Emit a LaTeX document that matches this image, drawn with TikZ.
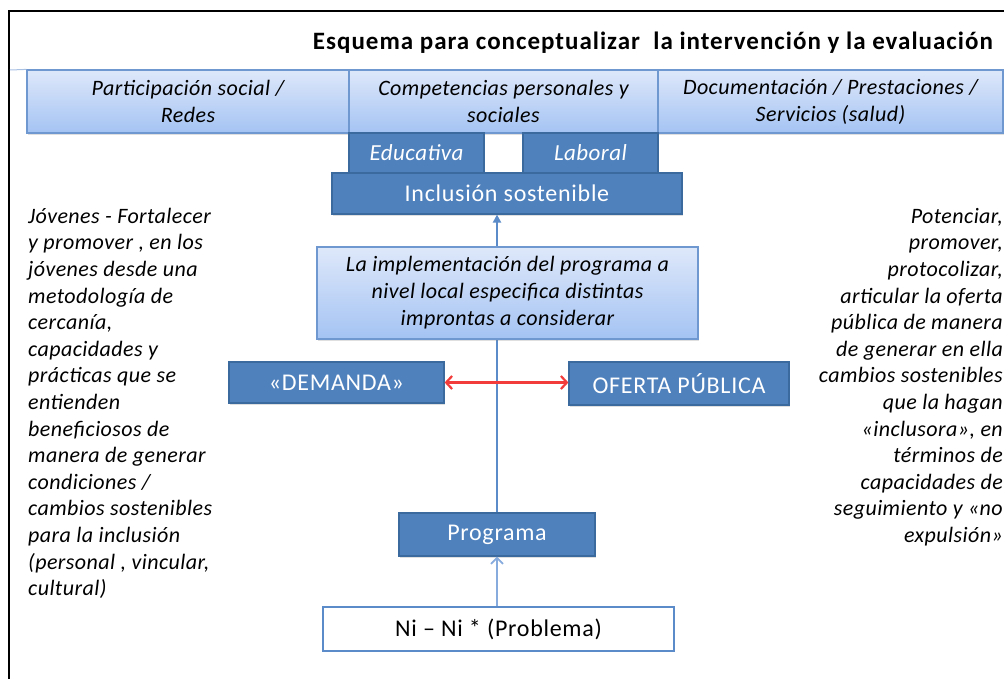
\documentclass[tikz,border=0pt]{standalone}
\usepackage{fontspec}
\setmainfont{Carlito}
\usetikzlibrary{arrows.meta,shadows}
\definecolor{dkblue}{HTML}{4F81BD}
\definecolor{dkborder}{HTML}{3B6A9F}
\definecolor{gtop}{HTML}{DEE8FA}
\definecolor{gbot}{HTML}{A4C3F3}
\definecolor{gborder}{HTML}{6F98D0}
\definecolor{lineblue}{HTML}{5B8BC8}
\definecolor{lightarrow}{HTML}{86ABDC}
\definecolor{redarrow}{HTML}{F23B3B}
\newcommand{\uprightfont}{\fontsize{24}{28}\selectfont\addfontfeatures{LetterSpace=3}}
\newcommand{\italfont}{\itshape\fontsize{22}{27}\selectfont\addfontfeatures{LetterSpace=2}}
\begin{document}
\begin{tikzpicture}[x=1pt,y=-1pt,
  boxshadow/.style={drop shadow={shadow xshift=1.2pt,shadow yshift=-1.8pt,opacity=0.25}},
  darkbox/.style={draw=dkborder,line width=1.2pt,fill=dkblue,text=white,inner sep=0pt,
    align=center,font=\uprightfont,boxshadow},
  darkital/.style={darkbox,font=\itshape\fontsize{23}{27}\selectfont\addfontfeatures{LetterSpace=2}},
  gradbox/.style={draw=gborder,line width=1.2pt,top color=gtop,bottom color=gbot,inner sep=0pt,
    align=center,font=\italfont,boxshadow},
  plainbox/.style={draw=lineblue,line width=1.5pt,fill=white,inner sep=0pt,
    align=center,font=\uprightfont},
  sidetext/.style={inner sep=0pt,font=\itshape\fontsize{22}{26.6}\selectfont\addfontfeatures{LetterSpace=2}},
  mainline/.style={draw=lineblue,line width=2.2pt},
  redline/.style={draw=redarrow,line width=2.2pt},
]
\useasboundingbox (0,0) rectangle (1006,679);
\fill[white] (0,0) rectangle (1006,679);
% frame
\draw[line width=2pt] (9,679) |- (1004,11);

% title
\node[anchor=base east,inner sep=0pt,font=\bfseries\fontsize{25}{29}\selectfont\addfontfeatures{LetterSpace=4}] (title) at (993,50)
  {Esquema para conceptualizar\ \ la intervención y la evaluación};

% top row
\node[gradbox,minimum width=322pt,minimum height=63pt] (tb1) at (188,101.5)
  {Participación social /\\Redes};
\node[gradbox,minimum width=309pt,minimum height=63pt] (tb2) at (503.5,101.5)
  {Competencias personales y\\sociales};
\node[gradbox,minimum width=345pt,minimum height=63pt] (tb3) at (830.5,101.5)
  {Documentación / Prestaciones /\\Servicios (salud)};
\draw[gborder!60,line width=1pt] (10,70) -- (tb1.north west);

% second row
\node[darkital,minimum width=135pt,minimum height=40pt] (edu) at (416.5,153) {Educativa};
\node[darkital,minimum width=135pt,minimum height=40pt] (lab) at (590.5,153) {Laboral};
\node[darkbox,minimum width=350pt,minimum height=41pt] (incl) at (507,193.5) {Inclusión sostenible};

% lower nodes
\node[darkbox,minimum width=196pt,minimum height=43pt] (prog) at (497,534.5) {Programa};
\node[plainbox,minimum width=351pt,minimum height=44pt] (nini) at (498.5,629) {Ni – Ni * (Problema)};
\node[darkbox,minimum width=215pt,minimum height=41pt] (dem) at (336.5,382.5) {«DEMANDA»};
\node[darkbox,minimum width=220pt,minimum height=43pt] (ofe) at (679,383.5) {OFERTA PÚBLICA};

% main vertical connector (behind the implementation box)
\draw[mainline,-{Triangle[length=8pt,width=8pt]}] (prog.north) -- (prog.north |- incl.south);

\node[gradbox,minimum width=381pt,minimum height=92pt] (impl) at (507.5,293)
  {La implementación del programa a\\nivel local especifica distintas\\improntas a considerar};

% other connectors
\draw[redline,{Straight Barb[length=6pt,width=13pt]}-{Straight Barb[length=6pt,width=13pt]}]
  (dem.east) -- (dem.east -| ofe.west);
\draw[draw=lightarrow,line width=1.8pt,-{Straight Barb[length=6pt,width=12pt]}]
  (nini.north -| prog.south) -- (prog.south);

% side texts
\node[sidetext,anchor=north west,align=left] (lefttext) at (28,207)
  {\rule{0pt}{16pt}Jóvenes - Fortalecer\\
   y promover , en los\\
   jóvenes desde una\\
   metodología de\\
   cercanía,\\
   capacidades y\\
   prácticas que se\\
   entienden\\
   beneficiosos de\\
   manera de generar\\
   condiciones /\\
   cambios sostenibles\\
   para la inclusión\\
   (personal , vincular,\\
   cultural)};
\node[sidetext,anchor=north east,align=right] (righttext) at (1003,207)
  {\rule{0pt}{16pt}Potenciar,\\
   promover,\\
   protocolizar,\\
   articular la oferta\\
   pública de manera\\
   de generar en ella\\
   cambios sostenibles\\
   que la hagan\\
   «inclusora», en\\
   términos de\\
   capacidades de\\
   seguimiento y «no\\
   expulsión»};
\end{tikzpicture}
\end{document}
